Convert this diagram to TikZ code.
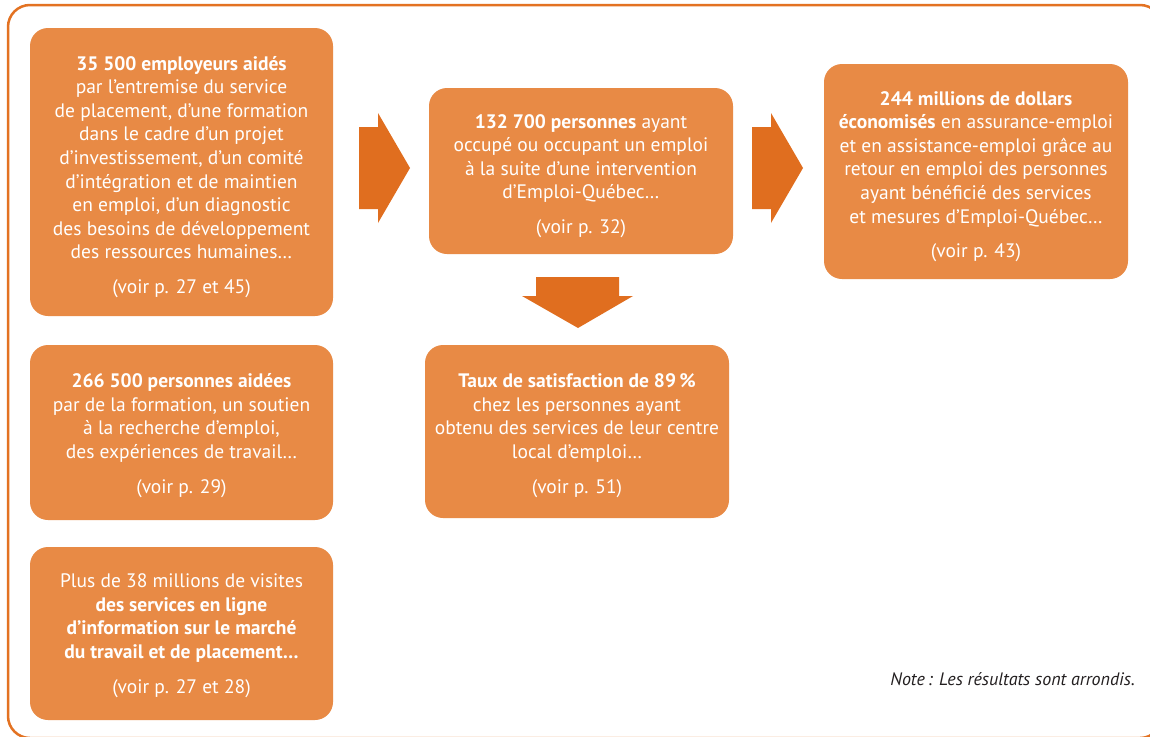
\documentclass[tikz,border=0pt]{standalone}
\usepackage{fontspec}
\setmainfont{PT Sans}
\definecolor{boxfill}{HTML}{E88A45}
\definecolor{arrowfill}{HTML}{E06E1F}
\definecolor{framecol}{HTML}{E37222}
\definecolor{notecol}{HTML}{231F20}
\tikzset{
  infobox/.style={fill=boxfill, rounded corners=18pt, inner sep=0pt},
  boxtext/.style={text=white, align=center, font=\fontsize{19.5}{23.6}\selectfont, inner sep=0pt},
  bigarrow/.style={fill=arrowfill, draw=none},
  frameline/.style={draw=framecol, line width=2.5pt, rounded corners=22pt}
}
\begin{document}
\begin{tikzpicture}[x=1pt,y=-1pt]
\useasboundingbox (0,0) rectangle (1150,736);
\clip (0,0) rectangle (1150,736);
\fill[white] (0,0) rectangle (1150,736);
\draw[frameline] (8,5) rectangle (1162,738);

\node[infobox, minimum width=303pt, minimum height=288pt] (b1) at (181.5,172) {};
\node[boxtext] (t1) at ([yshift=-5pt]b1.center)
 {\textbf{35 500 employeurs aidés}\\par l’entremise du service\\de placement, d’une formation\\dans le cadre d’un projet\\d’investissement, d’un comité\\d’intégration et de maintien\\en emploi, d’un diagnostic\\des besoins de développement\\des ressources humaines…\\[11pt](voir p. 27 et 45)};

\node[infobox, minimum width=304pt, minimum height=166pt] (b2) at (581,171) {};
\node[boxtext] (t2) at ([yshift=-5pt]b2.center)
 {\textbf{132 700 personnes} ayant\\occupé ou occupant un emploi\\à la suite d’une intervention\\d’Emploi-Québec…\\[11pt](voir p. 32)};

\node[infobox, minimum width=304pt, minimum height=215pt] (b3) at (976,171.5) {};
\node[boxtext] (t3) at ([yshift=-5pt]b3.center)
 {\textbf{244 millions de dollars}\\\textbf{économisés} en assurance-emploi\\et en assistance-emploi grâce au\\retour en emploi des personnes\\ayant bénéficié des services\\et mesures d’Emploi-Québec…\\[11pt](voir p. 43)};

\node[infobox, minimum width=303pt, minimum height=175pt] (b4) at (181.5,432.5) {};
\node[boxtext] (t4) at ([yshift=-3pt]b4.center)
 {\textbf{266 500 personnes aidées}\\par de la formation, un soutien\\à la recherche d’emploi,\\des expériences de travail…\\[11pt](voir p. 29)};

\node[infobox, minimum width=303pt, minimum height=173pt] (b5) at (181.5,633.5) {};
\node[boxtext] (t5) at ([yshift=-2pt]b5.center)
 {Plus de 38 millions de visites\\\textbf{des services en ligne}\\\textbf{d’information sur le marché}\\\textbf{du travail et de placement…}\\[11pt](voir p. 27 et 28)};

\node[infobox, minimum width=304pt, minimum height=173pt] (b6) at (577,431.5) {};
\node[boxtext] (t6) at ([yshift=-4pt]b6.center)
 {\textbf{Taux de satisfaction de 89\,\%}\\chez les personnes ayant\\obtenu des services de leur centre\\local d’emploi…\\[11pt](voir p. 51)};

% block arrows
\fill[bigarrow] (359,127) -- (378,127) -- (378,113) -- (410,168) -- (378,223) -- (378,209) -- (359,209) -- cycle;
\fill[bigarrow] (752,127) -- (771,127) -- (771,113) -- (803,168) -- (771,223) -- (771,209) -- (752,209) -- cycle;
\fill[bigarrow] (536,277) -- (619,277) -- (619,296) -- (633,296) -- (578,328) -- (522,296) -- (536,296) -- cycle;

\node[anchor=base east, inner sep=0pt, text=notecol, font=\itshape\fontsize{18}{20}\selectfont] (note) at (1135,685) {Note\,: Les résultats sont arrondis.};
\end{tikzpicture}
\end{document}
